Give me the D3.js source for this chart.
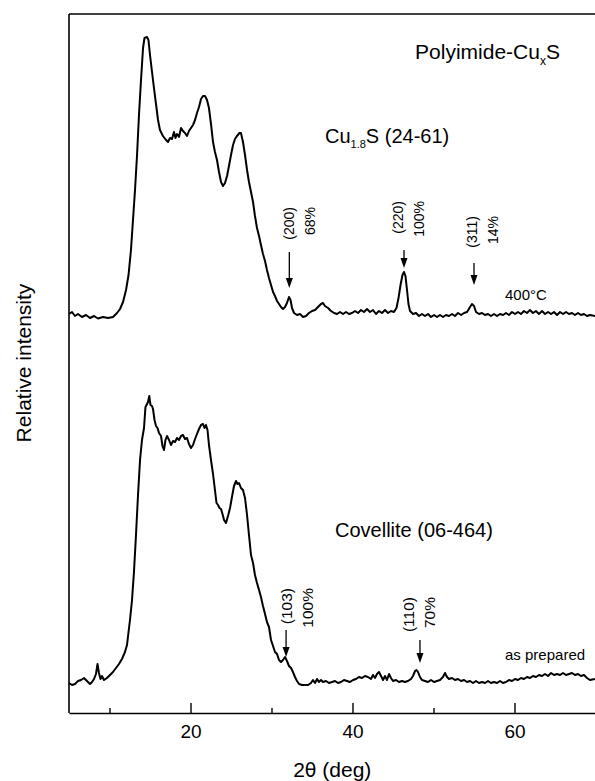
<!DOCTYPE html>
<html>
<head>
<meta charset="utf-8">
<script src="https://cdn.jsdelivr.net/npm/d3@7"></script>
<style>
  html, body { margin: 0; padding: 0; background: #fff; }
  svg { display: block; }
</style>
</head>
<body>
<svg id="xrd-chart" width="595" height="781"></svg>
<script>
// 2theta (deg), intensity (a.u.) -- sample heated to 400 C
const scan400C = [
  [5.0, 399], [5.37, 401], [5.74, 397], [6.11, 399], [6.6, 396], [7.1, 398], [7.6, 395], [8.09, 397],
  [8.58, 394.5], [9.2, 396], [9.81, 395], [10.43, 396], [10.93, 400], [11.3, 404], [11.67, 411],
  [12.04, 423], [12.35, 438], [12.65, 463], [12.9, 493], [13.15, 523], [13.4, 558], [13.64, 598],
  [13.89, 633], [14.14, 665], [14.32, 675], [14.63, 676], [14.81, 673], [15.0, 658], [15.25, 641],
  [15.49, 625], [15.74, 609], [15.99, 593], [16.23, 583], [16.6, 577], [16.98, 573], [17.22, 571],
  [17.47, 575], [17.72, 574], [17.96, 581], [18.15, 575], [18.33, 579], [18.58, 576], [18.83, 585],
  [19.07, 582], [19.32, 580], [19.57, 577], [19.81, 582], [20.06, 585], [20.31, 588], [20.56, 593],
  [20.8, 600], [21.05, 606], [21.3, 614], [21.54, 617], [21.79, 617], [22.04, 613], [22.28, 605],
  [22.53, 589], [22.78, 571], [23.02, 561], [23.27, 553], [23.52, 541], [23.77, 531], [24.01, 527],
  [24.26, 530], [24.51, 537], [24.75, 547], [25.0, 558], [25.25, 568], [25.49, 574], [25.74, 577],
  [26.05, 580], [26.23, 580], [26.48, 571], [26.73, 558], [26.98, 543], [27.22, 531], [27.47, 521],
  [27.72, 511], [27.96, 497], [28.21, 485], [28.46, 477], [28.7, 468], [28.95, 459], [29.2, 452],
  [29.44, 443], [29.69, 435], [29.94, 428], [30.19, 421], [30.43, 417], [30.68, 412], [30.93, 409],
  [31.17, 406], [31.42, 404], [31.67, 406], [31.91, 410], [32.16, 416], [32.35, 413], [32.53, 405],
  [32.78, 400], [33.15, 398], [33.52, 399], [33.89, 396], [34.26, 397], [34.63, 400], [35.0, 402],
  [35.37, 403], [35.74, 406], [36.11, 409], [36.36, 410], [36.6, 407], [36.98, 405], [37.35, 402],
  [37.72, 400], [38.09, 399], [38.46, 401], [38.83, 399], [39.2, 401], [39.57, 399], [39.94, 400],
  [40.31, 402], [40.68, 400], [41.05, 403], [41.42, 401], [41.79, 404], [42.16, 401], [42.53, 403],
  [42.9, 399], [43.27, 402], [43.64, 400], [44.01, 403], [44.38, 400], [44.75, 402], [45.12, 401],
  [45.43, 405], [45.68, 415], [45.93, 428], [46.17, 438], [46.36, 441], [46.54, 437], [46.73, 423],
  [46.91, 409], [47.1, 402], [47.47, 399], [47.84, 400], [48.21, 397], [48.58, 399], [48.95, 397],
  [49.32, 399], [49.69, 396], [50.06, 398], [50.43, 396], [50.8, 398], [51.17, 396], [51.54, 398],
  [51.91, 397], [52.28, 399], [52.65, 397], [53.02, 400], [53.4, 398], [53.77, 400], [54.14, 401],
  [54.44, 405], [54.75, 409], [55.0, 407], [55.25, 401], [55.62, 399], [55.99, 400], [56.36, 398],
  [56.73, 399], [57.1, 397], [57.47, 399], [57.84, 397], [58.21, 399], [58.58, 398], [58.95, 400],
  [59.32, 398], [59.69, 401], [60.06, 399], [60.43, 401], [60.8, 399], [61.17, 402], [61.54, 400],
  [61.91, 403], [62.28, 400], [62.65, 402], [63.02, 399], [63.4, 402], [63.77, 399], [64.14, 401],
  [64.51, 399], [64.88, 401], [65.25, 398], [65.62, 401], [65.99, 399], [66.36, 401], [66.73, 399],
  [67.1, 400], [67.47, 398], [67.84, 400], [68.21, 398], [68.58, 399], [68.95, 397], [69.32, 398],
  [69.94, 397]
];

// 2theta (deg), intensity (a.u.) -- as prepared film
const scanAsPrepared = [
  [5.0, 30], [5.37, 28], [5.74, 29], [6.11, 32], [6.48, 33], [6.85, 35], [7.22, 32], [7.59, 29],
  [7.84, 31], [8.09, 34], [8.33, 39], [8.52, 49], [8.7, 40], [8.89, 34], [9.07, 37], [9.32, 33],
  [9.69, 35], [10.06, 38], [10.43, 41], [10.8, 45], [11.17, 49], [11.54, 54], [11.91, 61],
  [12.16, 68], [12.35, 81], [12.53, 93], [12.78, 113], [13.02, 141], [13.27, 178], [13.52, 218],
  [13.77, 253], [14.01, 273], [14.26, 285], [14.44, 306], [14.63, 309], [14.75, 311], [14.91, 317],
  [15.06, 308], [15.25, 307], [15.37, 304], [15.56, 293], [15.74, 287], [15.93, 285], [16.11, 280],
  [16.36, 277], [16.54, 267], [16.73, 263], [16.91, 273], [17.1, 277], [17.35, 273], [17.59, 268],
  [17.84, 272], [18.09, 271], [18.33, 275], [18.58, 273], [18.83, 277], [19.07, 278], [19.32, 274],
  [19.57, 275], [19.81, 269], [20.06, 265], [20.31, 268], [20.56, 274], [20.8, 279], [21.05, 284],
  [21.3, 288], [21.54, 289], [21.73, 285], [21.91, 288], [22.1, 283], [22.28, 268], [22.53, 253],
  [22.78, 239], [23.02, 223], [23.21, 210], [23.4, 208], [23.58, 205], [23.77, 204], [23.95, 199],
  [24.14, 193], [24.38, 190], [24.63, 197], [24.88, 205], [25.12, 216], [25.37, 227], [25.62, 232],
  [25.8, 229], [25.99, 230], [26.23, 225], [26.48, 223], [26.73, 215], [26.98, 198], [27.22, 178],
  [27.47, 158], [27.72, 150], [27.96, 138], [28.21, 130], [28.46, 123], [28.7, 116], [28.95, 107],
  [29.2, 99], [29.44, 91], [29.69, 86], [29.94, 73], [30.19, 67], [30.43, 61], [30.68, 59],
  [30.93, 53], [31.17, 51], [31.42, 53], [31.67, 56], [31.91, 52], [32.16, 47], [32.41, 45],
  [32.65, 41], [32.9, 36], [33.15, 32], [33.4, 29], [33.77, 28], [34.14, 28], [34.51, 28],
  [34.88, 30], [35.12, 33], [35.37, 30], [35.62, 34], [35.86, 31], [36.11, 33], [36.36, 31],
  [36.73, 32], [37.1, 30], [37.47, 31], [37.84, 32], [38.21, 30], [38.58, 31], [38.95, 33],
  [39.32, 32], [39.69, 31], [40.06, 33], [40.43, 34], [40.8, 36], [41.17, 35], [41.54, 37],
  [41.91, 36], [42.28, 34], [42.53, 38], [42.78, 35], [43.02, 39], [43.27, 41], [43.52, 37],
  [43.77, 33], [44.01, 37], [44.26, 33], [44.51, 39], [44.75, 35], [45.0, 32], [45.37, 33],
  [45.74, 31], [46.11, 32], [46.48, 31], [46.85, 32], [47.22, 34], [47.47, 37], [47.72, 42],
  [47.9, 43], [48.09, 41], [48.33, 36], [48.58, 33], [48.95, 32], [49.32, 31], [49.69, 33],
  [50.06, 31], [50.43, 32], [50.8, 33], [51.17, 36], [51.42, 40], [51.67, 36], [51.91, 34],
  [52.28, 35], [52.65, 33], [53.02, 34], [53.4, 32], [53.77, 33], [54.14, 31], [54.51, 32],
  [54.88, 30], [55.25, 32], [55.62, 30], [55.99, 31], [56.36, 30], [56.73, 32], [57.1, 30],
  [57.47, 31], [57.84, 30], [58.21, 32], [58.58, 30], [58.95, 31], [59.32, 33], [59.69, 32],
  [60.06, 34], [60.43, 33], [60.8, 35], [61.17, 34], [61.54, 36], [61.91, 35], [62.28, 37],
  [62.65, 36], [63.02, 38], [63.4, 37], [63.77, 39], [64.14, 37], [64.51, 40], [64.88, 38],
  [65.25, 39], [65.62, 38], [65.99, 40], [66.36, 38], [66.73, 39], [67.1, 40], [67.47, 38],
  [67.84, 39], [68.21, 37], [68.58, 38], [68.95, 35], [69.32, 33], [69.94, 34]
];

// reflection markers: 2theta of arrow, arrow top / tip and label top (intensity units)
const peaks400C = [
  { at: 32.2, top: 461, tip: 425, hkl: "(200)", pct: "68%", labelAt: 32.78, labelTop: 506 },
  { at: 46.36, top: 463, tip: 445, hkl: "(220)", pct: "100%", labelAt: 46.23, labelTop: 512 },
  { at: 55.0, top: 450, tip: 428, hkl: "(311)", pct: "14%", labelAt: 55.37, labelTop: 497 }
];
const peaksAsPrepared = [
  { at: 31.8, top: 83, tip: 56, hkl: "(103)", pct: "100%", labelAt: 32.53, labelTop: 125 },
  { at: 48.33, top: 73, tip: 50, hkl: "(110)", pct: "70%", labelAt: 47.59, labelTop: 116 }
];

const majorTicks = [20, 40, 60];
const minorTicks = [10, 30, 50];

(function() {
  const INK = "#000";
  const FONT = "Liberation Sans, Arial, sans-serif";

  const svg = d3.select("#xrd-chart");
  const left = 69, right = 595.5, top = 13, bottom = 713;

  const x = d3.scaleLinear().domain([5, 70]).range([left, right]);
  const y = d3.scaleLinear().domain([0, 700]).range([bottom, top]);

  // frame: left, top
  svg.append("line")
    .attr("x1", left).attr("x2", left)
    .attr("y1", y(699)).attr("y2", bottom)
    .attr("stroke", INK).attr("stroke-width", 1.6);
  svg.append("line")
    .attr("x1", left).attr("x2", 595)
    .attr("y1", y(699)).attr("y2", y(699))
    .attr("stroke", INK).attr("stroke-width", 1.6);

  // bottom axis, ticks pointing inward
  const xAxis = svg.append("g")
    .attr("transform", `translate(0,${bottom})`)
    .call(d3.axisBottom(x).tickValues(majorTicks).tickSizeInner(-10).tickSizeOuter(0).tickPadding(12));
  xAxis.select(".domain").attr("stroke-width", 1.6);
  xAxis.selectAll(".tick line").attr("stroke-width", 1.4);
  xAxis.selectAll("text")
    .attr("font-family", FONT)
    .attr("font-size", 19)
    .attr("fill", INK);

  svg.append("g")
    .attr("transform", `translate(0,${bottom})`)
    .call(d3.axisBottom(x).tickValues(minorTicks).tickSizeInner(-5).tickSizeOuter(0).tickFormat(""))
    .call(g => g.select(".domain").remove())
    .selectAll(".tick line").attr("stroke-width", 1.4);

  // axis labels
  const xLabel = svg.append("text")
    .attr("x", (left + right) / 2)
    .attr("y", 777)
    .attr("text-anchor", "middle")
    .attr("font-family", FONT)
    .attr("font-size", 21)
    .attr("fill", INK);
  xLabel.append("tspan").text("2");
  xLabel.append("tspan").attr("font-family", "DejaVu Sans, sans-serif").attr("font-size", 19).text("θ");
  xLabel.append("tspan").text(" (deg)");

  svg.append("text")
    .attr("transform", `translate(31,${(top + bottom) / 2}) rotate(-90)`)
    .attr("text-anchor", "middle")
    .attr("font-family", FONT)
    .attr("font-size", 21)
    .attr("fill", INK)
    .text("Relative intensity");

  // scans
  const line = d3.line()
    .x(d => x(d[0]))
    .y(d => y(d[1]));

  [scan400C, scanAsPrepared].forEach(scan => {
    svg.append("path")
      .datum(scan)
      .attr("fill", "none")
      .attr("stroke", INK)
      .attr("stroke-width", 2)
      .attr("stroke-linejoin", "round")
      .attr("d", line);
  });

  // arrows + rotated hkl labels
  function drawPeaks(peaks, fontSize) {
    peaks.forEach(p => {
      const ax = x(p.at);
      const yTop = y(p.top), yTip = y(p.tip);
      svg.append("line")
        .attr("x1", ax).attr("x2", ax)
        .attr("y1", yTop).attr("y2", yTip - 8)
        .attr("stroke", INK).attr("stroke-width", 1.3);
      svg.append("path")
        .attr("d", `M${ax - 3.5},${yTip - 10}L${ax + 3.5},${yTip - 10}L${ax},${yTip}Z`)
        .attr("fill", INK);

      const lx = x(p.labelAt), ly = y(p.labelTop);
      [p.hkl, p.pct].forEach((t, i) => {
        svg.append("text")
          .attr("transform", `translate(${lx + i * 21},${ly}) rotate(-90)`)
          .attr("text-anchor", "end")
          .attr("font-family", FONT)
          .attr("font-size", fontSize)
          .attr("fill", INK)
          .text(t);
      });
    });
  }
  drawPeaks(peaks400C, 14);
  drawPeaks(peaksAsPrepared, 15.5);

  // titles
  const title = svg.append("text")
    .attr("x", x(47.72)).attr("y", y(654))
    .attr("font-family", FONT).attr("font-size", 21).attr("fill", INK);
  title.append("tspan").text("Polyimide-Cu");
  title.append("tspan").attr("font-size", 12).attr("dy", 6).text("x");
  title.append("tspan").attr("dy", -6).text("S");

  const phase1 = svg.append("text")
    .attr("x", x(36.6)).attr("y", y(570))
    .attr("font-family", FONT).attr("font-size", 20).attr("fill", INK);
  phase1.append("tspan").text("Cu");
  phase1.append("tspan").attr("font-size", 11).attr("dy", 5).text("1.8");
  phase1.append("tspan").attr("dy", -5).text("S (24-61)");

  svg.append("text")
    .attr("x", x(37.84)).attr("y", y(176))
    .attr("font-family", FONT).attr("font-size", 20).attr("fill", INK)
    .text("Covellite (06-464)");

  svg.append("text")
    .attr("x", x(58.83)).attr("y", y(413))
    .attr("font-family", FONT).attr("font-size", 15).attr("fill", INK)
    .text("400°C");

  svg.append("text")
    .attr("x", x(58.83)).attr("y", y(53))
    .attr("font-family", FONT).attr("font-size", 15).attr("fill", INK)
    .text("as prepared");
})();
</script>
</body>
</html>
